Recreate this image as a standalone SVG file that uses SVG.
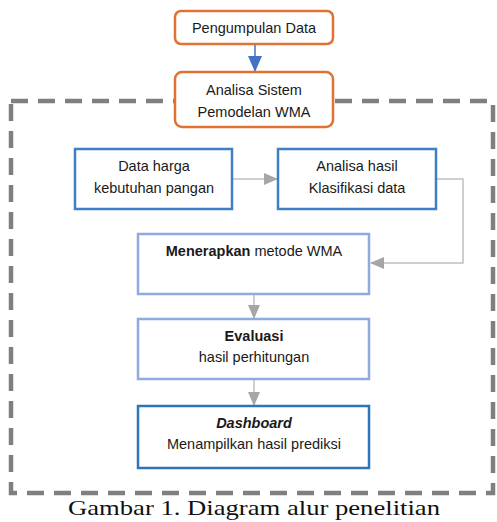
<svg xmlns="http://www.w3.org/2000/svg" width="497" height="522" viewBox="0 0 497 522">
<style>
text{font-family:"Liberation Sans",Arial,sans-serif;font-size:14.5px;fill:#1a1a1a;text-anchor:middle}
.or{fill:#fff;stroke:#E07233;stroke-width:2.5}
.bl{fill:#fff;stroke:#3F7FC4;stroke-width:2.5}
.lb{fill:#fff;stroke:#8FAADC;stroke-width:2.5}
.db{fill:#fff;stroke:#2E75B6;stroke-width:2.5}
.gl{fill:none;stroke:#BFBFBF;stroke-width:1.5}
.cap{font-family:"Liberation Serif","Times New Roman",serif;font-size:22px;fill:#111}
</style>
<defs>
<marker id="ga" markerWidth="14" markerHeight="12" refX="13" refY="6" orient="auto" markerUnits="userSpaceOnUse"><path d="M0,0 L14,6 L0,12 z" fill="#A6A6A6"/></marker>
<marker id="ba" markerWidth="16" markerHeight="14" refX="15" refY="7" orient="auto" markerUnits="userSpaceOnUse"><path d="M0,0 L16,7 L0,14 z" fill="#4472C4"/></marker>
</defs>
<rect id="frame" x="11" y="101" width="482" height="392" fill="none" stroke="#7F7F7F" stroke-width="4.5" stroke-dasharray="17 10"/>
<g id="connectors">
<line x1="255" y1="45" x2="255" y2="71" stroke="#4472C4" stroke-width="1.5" marker-end="url(#ba)"/>
<line x1="232" y1="179" x2="277" y2="179" class="gl" marker-end="url(#ga)"/>
<polyline points="436,179 463,179 463,263 371,263" class="gl" marker-end="url(#ga)"/>
<line x1="254" y1="294" x2="254" y2="318" class="gl" marker-end="url(#ga)"/>
<line x1="254" y1="379" x2="254" y2="405" class="gl" marker-end="url(#ga)"/>
</g>
<g id="n1"><rect class="or" x="175" y="11" width="158" height="33" rx="6"/><text x="254" y="33">Pengumpulan Data</text></g>
<g id="n2"><rect class="or" x="175" y="72" width="158" height="55" rx="7"/><text x="254" y="95">Analisa Sistem</text><text x="254" y="117">Pemodelan WMA</text></g>
<g id="n3"><rect class="bl" x="75" y="149" width="157" height="60"/><text x="154" y="171">Data harga</text><text x="154" y="193">kebutuhan pangan</text></g>
<g id="n4"><rect class="bl" x="278" y="149" width="158" height="60"/><text x="357" y="171">Analisa hasil</text><text x="357" y="193">Klasifikasi data</text></g>
<g id="n5"><rect class="lb" x="138" y="234" width="231" height="60"/><text x="254" y="256"><tspan font-weight="bold">Menerapkan</tspan> metode WMA</text></g>
<g id="n6"><rect class="lb" x="138" y="319" width="231" height="60"/><text x="254" y="341" font-weight="bold">Evaluasi</text><text x="254" y="362">hasil perhitungan</text></g>
<g id="n7"><rect class="db" x="138" y="406" width="231" height="62"/><text x="254" y="428" font-weight="bold" font-style="italic">Dashboard</text><text x="254" y="449">Menampilkan hasil prediksi</text></g>
<text class="cap" x="254" y="515" textLength="372" lengthAdjust="spacingAndGlyphs">Gambar 1. Diagram alur penelitian</text>
</svg>
